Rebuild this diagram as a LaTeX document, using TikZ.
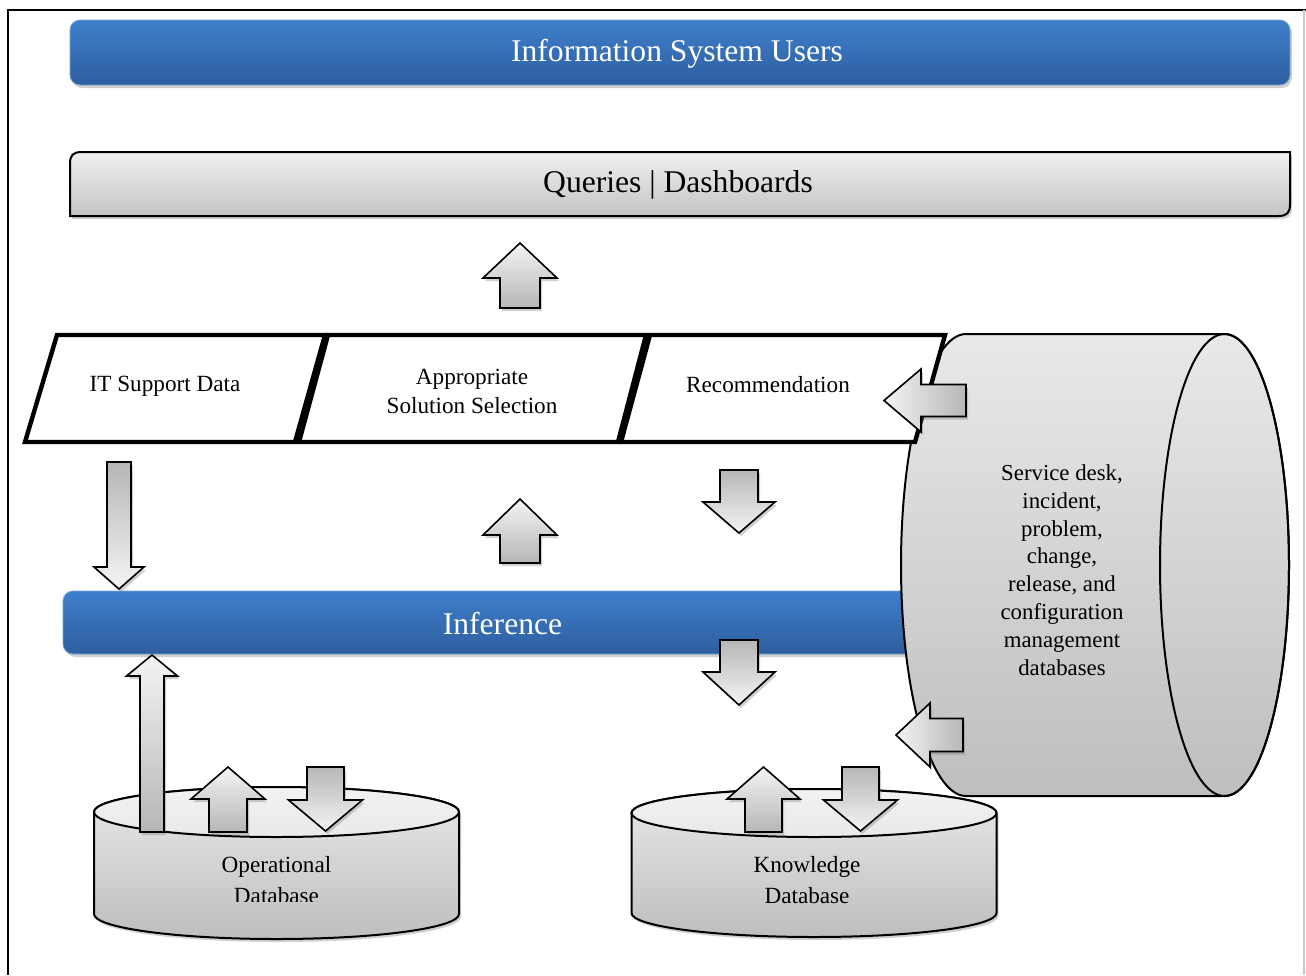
\documentclass[tikz,border=0pt]{standalone}
\usepackage{fontspec}
\setmainfont{Liberation Serif}
\usetikzlibrary{shadows}
\definecolor{blueT}{HTML}{3E7FCB}
\definecolor{blueB}{HTML}{2E5E9F}
\definecolor{grayT}{HTML}{F0F0F0}
\definecolor{grayB}{HTML}{C4C4C4}
\definecolor{cylT}{HTML}{E9E9E9}
\definecolor{cylB}{HTML}{BEBEBE}
\definecolor{arrL}{HTML}{F4F4F4}
\definecolor{arrD}{HTML}{B6B6B6}
\newcommand{\vblock}[7]{%
  \path[#1] ({#2-#6},#3) -- ({#2-#6},#4) -- ({#2-#7},#4) -- (#2,#5) -- ({#2+#7},#4) -- ({#2+#6},#4) -- ({#2+#6},#3) -- cycle;}
\newcommand{\hblock}[7]{%
  \path[#1] (#3,{#2-#6}) -- (#4,{#2-#6}) -- (#4,{#2-#7}) -- (#5,#2) -- (#4,{#2+#7}) -- (#4,{#2+#6}) -- (#3,{#2+#6}) -- cycle;}
\newcommand{\dbcyl}[5]{%
  \path[dbbody] ({#1-#4},#2) -- ({#1-#4},#3) .. controls ({#1-#4},{#3+0.5523*#5}) and ({#1-0.5523*#4},{#3+#5}) .. (#1,{#3+#5}) .. controls ({#1+0.5523*#4},{#3+#5}) and ({#1+#4},{#3+0.5523*#5}) .. ({#1+#4},#3) -- ({#1+#4},#2) .. controls ({#1+#4},{#2-0.5523*#5}) and ({#1+0.5523*#4},{#2-#5}) .. (#1,{#2-#5}) .. controls ({#1-0.5523*#4},{#2-#5}) and ({#1-#4},{#2-0.5523*#5}) .. ({#1-#4},#2) -- cycle;
  \path[dbtop] ({#1-#4},#2) .. controls ({#1-#4},{#2+0.5523*#5}) and ({#1-0.5523*#4},{#2+#5}) .. (#1,{#2+#5}) .. controls ({#1+0.5523*#4},{#2+#5}) and ({#1+#4},{#2+0.5523*#5}) .. ({#1+#4},#2) .. controls ({#1+#4},{#2-0.5523*#5}) and ({#1+0.5523*#4},{#2-#5}) .. (#1,{#2-#5}) .. controls ({#1-0.5523*#4},{#2-#5}) and ({#1-#4},{#2-0.5523*#5}) .. ({#1-#4},#2) -- cycle;}
\tikzset{
  softshadow/.style={drop shadow={shadow xshift=1pt,shadow yshift=-1.5pt,opacity=0.3,fill=black!60}},
  bluebar/.style={top color=blueT,bottom color=blueB,draw=blueT!70!white,line width=0.4pt,
    rounded corners=5pt,softshadow},
  bluetext/.style={text=white,font=\fontsize{15.8}{19}\selectfont},
  graybar/.style={top color=grayT,bottom color=grayB,draw=black,line width=1pt,softshadow},
  bartext/.style={font=\fontsize{15.8}{19}\selectfont,text=black},
  para/.style={draw=black,line width=2.2pt,fill=white,line join=miter},
  paratext/.style={font=\fontsize{11.6}{14.5}\selectfont,align=center},
  cyltext/.style={font=\fontsize{11.4}{13.9}\selectfont,align=center},
  dbtext/.style={font=\fontsize{11.6}{15.5}\selectfont,align=center},
  bigcyl/.style={top color=cylT,bottom color=cylB,draw=black,line width=1pt},
  dbbody/.style={top color=cylT,bottom color=cylB,draw=black,line width=1pt,softshadow},
  dbtop/.style={top color=cylT!60!white,bottom color=cylT,draw=black,line width=1pt},
  blockarrow/.style={draw=black,line width=0.8pt,line join=miter,softshadow},
  uparrow/.style={blockarrow,top color=arrL,bottom color=arrD},
  downarrow/.style={blockarrow,top color=arrD,bottom color=arrL},
  leftarrow/.style={blockarrow,left color=arrL,right color=arrD}
}
\begin{document}
\begin{tikzpicture}[x=0.5pt,y=-0.5pt]
\useasboundingbox (0,0) rectangle (1306,975);
\fill[white] (0,0) rectangle (1306,975);
% frame
\draw[line width=0.8pt] (8,975) -- (8,10) -- (1306,10);
\draw[line width=0.6pt,gray!40] (1304,10) -- (1304,975);
% top bar
\node[bluebar,minimum width=610pt,minimum height=32.5pt,inner sep=0pt] (usersbar) at (680,52.5) {};
\node[bluetext] (users) at (677,54) {Information System Users};
% queries bar
\path[graybar] (70,216) -- (70,164) .. controls (70,155) and (73,152) .. (82,152) -- (1290,152) -- (1290,204) .. controls (1290,213) and (1287,216) .. (1278,216) -- cycle;
\node[bartext] (queries) at (678,185) {Queries | Dashboards};
% inference bar
\node[bluebar,minimum width=439.5pt,minimum height=31.5pt,inner sep=0pt] (inferbar) at (502.5,622.5) {};
\node[bluetext] (infer) at (502.5,623.5) {Inference};
% right cylinder
\path[bigcyl] (966,334) -- (1224.5,334) .. controls (1260.1,334) and (1289,437.4) .. (1289,565) .. controls (1289,692.6) and (1260.1,796) .. (1224.5,796) -- (966,796) .. controls (930.4,796) and (901,692.6) .. (901,565) .. controls (901,437.4) and (930.4,334) .. (966,334) -- cycle;
\draw[line width=1pt] (1224.5,565) ellipse [x radius=32.25pt, y radius=115.5pt];
\node[cyltext] (sdesk) at (1062,570) {Service desk,\\incident,\\problem,\\change,\\release, and\\configuration\\management\\databases};
% parallelograms
\path[para] (25,442) -- (57,335) -- (325,335) -- (295,442) -- cycle;
\path[para] (299,442) -- (328,335) -- (646,335) -- (618,442) -- cycle;
\path[para] (621,442) -- (650,335) -- (945,335) -- (915,442) -- cycle;
\node[paratext] (itdata) at (165,386) {IT Support Data};
\node[paratext] (approp) at (472,391) {Appropriate\\Solution Selection};
\node[paratext] (recom) at (768,385) {Recommendation};
% databases
\dbcyl{276.5}{812}{914}{182.5}{25}
\dbcyl{814}{813}{913}{182.5}{24}
\begin{scope}
\clip (94,840) rectangle (459,901);
\node[dbtext] (opdb) at (276.5,880) {Operational\\Database};
\end{scope}
\node[dbtext] (kdb) at (807,880) {Knowledge\\Database};
% block arrows
\vblock{uparrow}{520}{308}{278}{243}{20}{37}
\vblock{uparrow}{520}{563}{535}{499}{20}{37}
\vblock{downarrow}{739}{470}{502}{533}{19}{36}
\vblock{downarrow}{739}{640}{672}{705}{19}{36}
\vblock{downarrow}{119}{462}{567}{589}{12}{25}
\vblock{uparrow}{152}{832}{676}{655}{12}{25.5}
\vblock{uparrow}{228}{832}{799}{767}{19}{37}
\vblock{downarrow}{325.5}{767}{800}{831}{18.5}{37}
\vblock{uparrow}{763.5}{832}{799}{767}{18.5}{36.5}
\vblock{downarrow}{860.5}{767}{800}{831}{18.5}{37}
\hblock{leftarrow}{400.5}{966}{921}{884}{16}{31.5}
\hblock{leftarrow}{735}{963}{930}{896}{16.5}{32}
\end{tikzpicture}
\end{document}
